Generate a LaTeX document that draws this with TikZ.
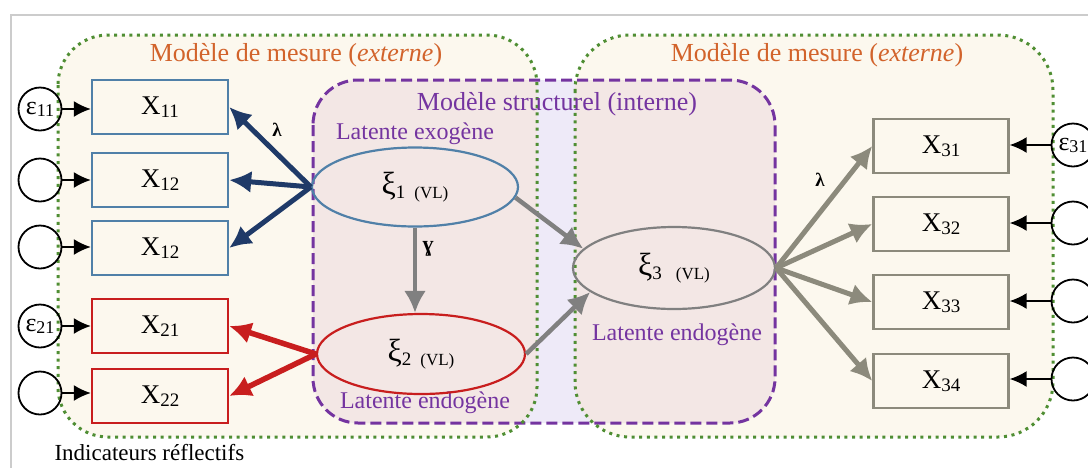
\documentclass[tikz,border=0pt]{standalone}
\usepackage{fontspec}
\setmainfont{Liberation Serif}
\usetikzlibrary{shapes.geometric,arrows.meta}
\definecolor{creamc}{HTML}{FCF8EE}
\definecolor{pinkc}{HTML}{F3E7E5}
\definecolor{lavc}{HTML}{EEEAF8}
\definecolor{greenc}{HTML}{4F8E33}
\definecolor{purpc}{HTML}{7434A0}
\definecolor{orangec}{HTML}{D2632B}
\definecolor{navyc}{HTML}{1F3A68}
\definecolor{bluec}{HTML}{5080A8}
\definecolor{redc}{HTML}{C81E1E}
\definecolor{grayc}{HTML}{808080}
\definecolor{grayb}{HTML}{8C8A7C}
\definecolor{borderc}{HTML}{CCCCCC}
\newcommand{\fsz}[1]{\fontsize{#1}{#1}\selectfont}
\newcommand{\xlab}[2]{{\fsz{27}#1}{\fsz{19}\raisebox{-3pt}{#2}}}
\newcommand{\elab}[2]{{\fsz{26}#1}{\fsz{18}\raisebox{-2pt}{#2}}}
\newcommand{\xilab}[2]{{\fsz{32}ξ}{\fsz{19}\raisebox{-4pt}{#1}}\hspace{#2}{\fsz{17}\raisebox{-4pt}{(VL)}}}
\begin{document}
\begin{tikzpicture}[x=1pt,y=-1pt,
  lbox/.style={draw, line width=2.4pt, fill=creamc, minimum width=136pt, minimum height=54pt, inner sep=0pt},
  errc/.style={draw, line width=1.8pt, circle, minimum size=43pt, inner sep=0pt},
  ell/.style={draw, ellipse, line width=2.2pt, inner sep=0pt},
  greendot/.style={draw=greenc, line width=3pt, dash pattern=on 3pt off 4.6pt},
  purpdash/.style={draw=purpc, line width=3pt, dash pattern=on 11pt off 5pt},
  errarr/.style={line width=1.7pt, -{Latex[length=17pt,width=16pt]}},
  bigarr/.style={line width=4.5pt, -{Latex[length=22pt,width=22pt]}},
  ptxt/.style={text=purpc, font=\fsz{24}},
  otxt/.style={text=orangec, font=\fsz{26}}]
\useasboundingbox (0,0) rectangle (1088,467);
% outer border
\draw[borderc, line width=2pt] (11,15) rectangle (1100,480);
% backgrounds
\fill[creamc, rounded corners=50pt] (58,35) rectangle (537,437);
\fill[creamc, rounded corners=55pt] (575,35) rectangle (1053,437);
\fill[lavc, rounded corners=45pt] (313,80) rectangle (775,423);
\begin{scope}
  \clip[rounded corners=45pt] (313,80) rectangle (775,423);
  \fill[pinkc, rounded corners=50pt] (58,35) rectangle (537,437);
  \fill[pinkc, rounded corners=55pt] (575,35) rectangle (1053,437);
\end{scope}
\draw[purpdash, rounded corners=45pt] (313,80) rectangle (775,423);
\draw[greendot, rounded corners=50pt] (58,35) rectangle (537,437);
\draw[greendot, rounded corners=55pt] (575,35) rectangle (1053,437);
% titles
\node[otxt] (mm1) at (296,55) {Modèle de mesure (\textit{externe})};
\node[otxt] (mm2) at (817,55) {Modèle de mesure (\textit{externe})};
\node[text=purpc, font=\fsz{26}] (ms) at (557,104) {Modèle structurel (interne)};
\node[ptxt] (lexo) at (415,134) {Latente exogène};
\node[ptxt] (lendo2) at (425,403) {Latente endogène};
\node[ptxt] (lendo3) at (677,335) {Latente endogène};
\node[anchor=west, font=\fsz{23}] (ind) at (51,453) {Indicateurs réflectifs};
% left boxes
\node[lbox, draw=bluec] (x11) at (160,107) {\xlab{X}{11}};
\node[lbox, draw=bluec] (x12a) at (160,180) {\xlab{X}{12}};
\node[lbox, draw=bluec] (x12b) at (160,248) {\xlab{X}{12}};
\node[lbox, draw=redc] (x21) at (160,326) {\xlab{X}{21}};
\node[lbox, draw=redc] (x22) at (160,396) {\xlab{X}{22}};
% right boxes
\node[lbox, draw=grayb, minimum width=135pt] (x31) at (941,146) {\xlab{X}{31}};
\node[lbox, draw=grayb, minimum width=135pt] (x32) at (941,224) {\xlab{X}{32}};
\node[lbox, draw=grayb, minimum width=135pt] (x33) at (941,302) {\xlab{X}{33}};
\node[lbox, draw=grayb, minimum width=135pt] (x34) at (941,381) {\xlab{X}{34}};
% error circles
\node[errc] (e11) at (40,109) {\elab{ε}{11}};
\node[errc] (e12a) at (40,180) {};
\node[errc] (e12b) at (40,247) {};
\node[errc] (e21) at (40,326) {\elab{ε}{21}};
\node[errc] (e22) at (40,393) {};
\node[errc] (e31) at (1073,145) {\elab{ε}{31}};
\node[errc] (e32) at (1073,223) {};
\node[errc] (e33) at (1073,301) {};
\node[errc] (e34) at (1073,379) {};
% latent variables
\node[ell, draw=bluec, minimum width=206pt, minimum height=79pt] (xi1) at (415,187) {\xilab{1}{9pt}};
\node[ell, draw=redc, minimum width=208pt, minimum height=80pt] (xi2) at (421,354) {\xilab{2}{9pt}};
\node[ell, draw=grayc, minimum width=202pt, minimum height=82pt] (xi3) at (674,268) {\xilab{3}{14pt}};
% error arrows
\foreach \e/\x in {e11/x11,e12a/x12a,e12b/x12b,e21/x21,e22/x22}
  \draw[errarr] (\e.east) -- (\x.west |- \e.east);
\foreach \e/\x in {e31/x31,e32/x32,e33/x33,e34/x34}
  \draw[errarr] (\e.west) -- (\x.east |- \e.west);
% loadings
\foreach \x in {x11,x12a,x12b}
  \draw[bigarr, navyc, line width=5pt] (xi1.west) -- (\x.east);
\foreach \x in {x21,x22}
  \draw[bigarr, redc, line width=5.5pt] (xi2.west) -- (\x.east);
\foreach \x in {x31,x32,x33,x34}
  \draw[bigarr, grayb, line width=5pt] (xi3.east) -- (\x.west);
% structural
\draw[bigarr, grayc, line width=4.5pt] (xi1.south) -- (xi1.south |- xi2.north);
\draw[bigarr, grayc, line width=4.5pt] (xi1.-6) -- (xi3.168);
\draw[bigarr, grayc, line width=4.5pt] (xi2.east) -- (xi3.196);
% coefficient labels
\node[font=\fsz{19}\bfseries] (lam1) at (277,130) {λ};
\node[font=\fsz{19}\bfseries] (lam2) at (820,180) {λ};
\node[font=\fsz{22}\bfseries] (gam) at (428,249) {ɣ};
\end{tikzpicture}
\end{document}
